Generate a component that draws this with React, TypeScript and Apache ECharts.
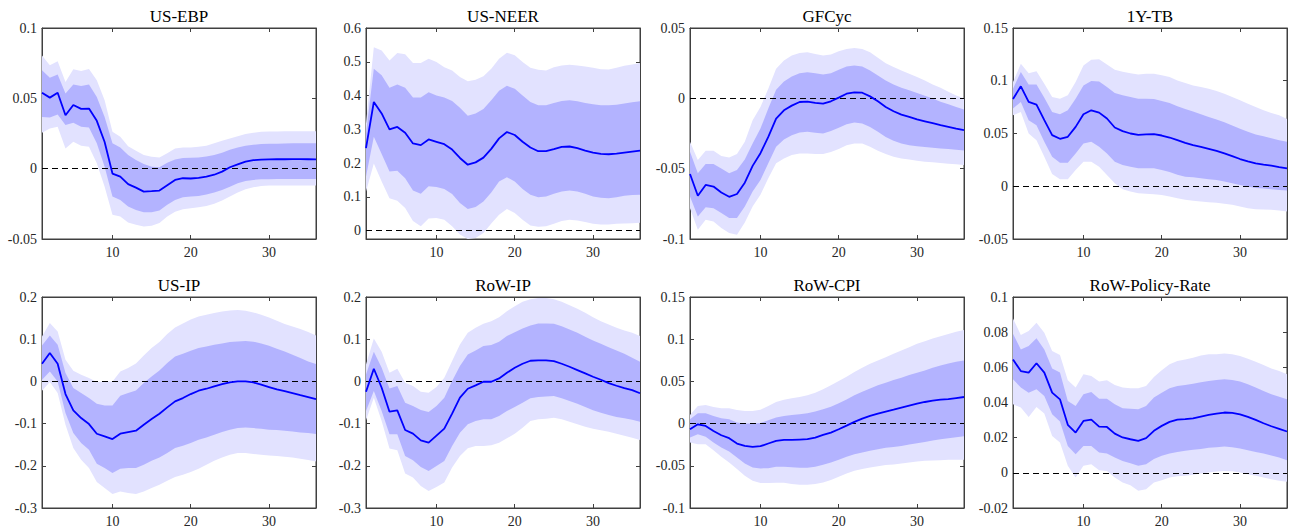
import React, { useEffect, useRef } from "react";
import * as echarts from "echarts";

const horizon = Array.from({ length: 36 }, (_, i) => i + 1);
const xTicks = [10, 20, 30];

// US-EBP
const ebpMean = [0.0539,0.0505,0.054,0.038,0.0453,0.0425,0.0427,0.034,0.019,-0.0035,-0.0057,-0.011,-0.0135,-0.0163,-0.016,-0.0156,-0.0118,-0.008,-0.0068,-0.007,-0.0066,-0.0057,-0.0043,-0.0021,0.001,0.003,0.005,0.006,0.0064,0.0066,0.0067,0.0067,0.0068,0.0068,0.0067,0.0066];
const ebpInHi = [0.07,0.0647,0.067,0.0534,0.0598,0.0588,0.0598,0.051,0.0368,0.018,0.0151,0.0097,0.0061,0.0033,0.0014,0.001,0.0042,0.0066,0.0076,0.0078,0.008,0.0087,0.0097,0.0113,0.0135,0.0151,0.0163,0.017,0.0175,0.0177,0.0178,0.0179,0.018,0.018,0.018,0.018];
const ebpInLo = [0.0368,0.0364,0.0385,0.031,0.0326,0.0298,0.0293,0.018,0.0014,-0.0198,-0.0222,-0.0269,-0.0293,-0.031,-0.031,-0.0298,-0.0257,-0.0222,-0.0203,-0.0198,-0.0194,-0.0184,-0.017,-0.0151,-0.0128,-0.0104,-0.0087,-0.008,-0.0076,-0.0075,-0.0074,-0.0074,-0.0073,-0.0073,-0.0073,-0.0073];
const ebpOutHi = [0.0805,0.0735,0.0763,0.0616,0.0706,0.0694,0.0709,0.0628,0.0487,0.0262,0.0227,0.016,0.0128,0.0097,0.0085,0.008,0.0109,0.0144,0.0151,0.0151,0.0156,0.0163,0.018,0.0198,0.0215,0.0231,0.0246,0.0255,0.0262,0.0264,0.0265,0.0266,0.0266,0.0266,0.0266,0.0266];
const ebpOutLo = [0.0255,0.0286,0.0298,0.0144,0.0191,0.0163,0.0156,0.0038,-0.0128,-0.0328,-0.034,-0.0383,-0.0399,-0.0411,-0.0406,-0.0387,-0.034,-0.0307,-0.0288,-0.0281,-0.0274,-0.0265,-0.025,-0.0227,-0.0198,-0.017,-0.0146,-0.0132,-0.0123,-0.012,-0.012,-0.012,-0.012,-0.012,-0.012,-0.012];
const ebpTicks = [-0.05, 0, 0.05, 0.1];

// US-NEER
const neerMean = [0.244,0.381,0.347,0.300,0.307,0.290,0.258,0.253,0.270,0.263,0.256,0.240,0.215,0.195,0.202,0.216,0.242,0.273,0.292,0.283,0.263,0.246,0.235,0.235,0.241,0.248,0.249,0.244,0.237,0.231,0.227,0.226,0.228,0.231,0.234,0.237];
const neerInHi = [0.288,0.479,0.460,0.423,0.433,0.423,0.394,0.394,0.410,0.400,0.394,0.384,0.364,0.340,0.347,0.360,0.386,0.414,0.429,0.420,0.400,0.381,0.371,0.371,0.378,0.384,0.386,0.383,0.378,0.374,0.371,0.371,0.373,0.376,0.380,0.383];
const neerInLo = [0.160,0.278,0.227,0.175,0.177,0.155,0.119,0.109,0.131,0.129,0.123,0.108,0.082,0.064,0.070,0.086,0.113,0.145,0.158,0.145,0.123,0.106,0.099,0.101,0.109,0.116,0.119,0.116,0.109,0.101,0.097,0.096,0.099,0.103,0.105,0.106];
const neerOutHi = [0.317,0.543,0.533,0.504,0.526,0.522,0.496,0.496,0.509,0.499,0.484,0.474,0.455,0.442,0.447,0.457,0.479,0.509,0.527,0.519,0.499,0.482,0.476,0.474,0.484,0.489,0.491,0.489,0.486,0.482,0.478,0.477,0.482,0.488,0.492,0.496];
const neerOutLo = [0.116,0.199,0.145,0.096,0.088,0.067,0.028,0.013,0.036,0.037,0.032,0.013,-0.012,-0.025,-0.022,-0.007,0.021,0.047,0.064,0.052,0.032,0.015,0.011,0.013,0.020,0.028,0.032,0.030,0.025,0.020,0.018,0.018,0.020,0.021,0.022,0.023];
const neerTicks = [0, 0.1, 0.2, 0.3, 0.4, 0.5, 0.6];

// GFCyc
const gfcMean = [-0.0538,-0.0693,-0.0616,-0.0627,-0.067,-0.07,-0.068,-0.06,-0.048,-0.039,-0.0274,-0.0144,-0.0085,-0.0052,-0.0026,-0.0024,-0.0033,-0.0038,-0.0021,0.0005,0.0033,0.0042,0.004,0.0014,-0.0021,-0.0061,-0.0092,-0.0116,-0.0132,-0.0149,-0.0163,-0.0177,-0.0191,-0.0203,-0.0215,-0.0226];
const gfcInHi = [-0.038,-0.0533,-0.0467,-0.0467,-0.0498,-0.0533,-0.051,-0.0434,-0.0321,-0.0215,-0.0073,0.0061,0.012,0.0156,0.0179,0.0186,0.0179,0.017,0.0179,0.0203,0.0226,0.0233,0.0226,0.0198,0.0163,0.0127,0.0099,0.0075,0.0057,0.0038,0.0019,-0.0002,-0.0024,-0.0042,-0.0061,-0.008];
const gfcInLo = [-0.0698,-0.084,-0.0774,-0.0781,-0.0816,-0.0851,-0.0851,-0.0769,-0.0663,-0.058,-0.0462,-0.0344,-0.0292,-0.0262,-0.0243,-0.0238,-0.0245,-0.025,-0.0233,-0.021,-0.0184,-0.0172,-0.0179,-0.0203,-0.0238,-0.0274,-0.0302,-0.0321,-0.0333,-0.034,-0.0346,-0.0351,-0.0356,-0.0361,-0.0365,-0.037];
const gfcOutHi = [-0.0309,-0.0439,-0.0373,-0.0373,-0.041,-0.042,-0.0396,-0.0309,-0.0156,-0.0061,0.0068,0.021,0.0269,0.0304,0.0323,0.0328,0.0316,0.0304,0.0311,0.0335,0.0351,0.0358,0.0351,0.0328,0.0288,0.025,0.0222,0.0198,0.0175,0.0151,0.0127,0.0099,0.0075,0.0047,0.0021,0];
const gfcOutLo = [-0.0781,-0.0934,-0.0863,-0.0875,-0.0922,-0.0958,-0.0969,-0.0882,-0.0769,-0.0686,-0.0568,-0.0462,-0.0427,-0.0403,-0.0392,-0.0392,-0.0396,-0.0396,-0.0382,-0.0361,-0.0333,-0.0321,-0.0321,-0.0344,-0.0373,-0.0396,-0.0415,-0.0427,-0.0434,-0.0443,-0.045,-0.0455,-0.046,-0.0465,-0.0469,-0.0474];
const gfcTicks = [-0.1, -0.05, 0, 0.05];

// 1Y-TB
const tbMean = [0.0827,0.0947,0.0799,0.0774,0.0626,0.0484,0.045,0.0469,0.0563,0.0682,0.072,0.0698,0.0642,0.0557,0.0522,0.05,0.0487,0.0491,0.0494,0.0481,0.0462,0.0437,0.0412,0.039,0.0374,0.0355,0.0336,0.0311,0.0286,0.0258,0.0236,0.0217,0.0204,0.0195,0.0182,0.017];
const tbInHi = [0.0925,0.1082,0.0965,0.0965,0.084,0.0704,0.0682,0.072,0.083,0.0956,0.0997,0.0994,0.094,0.0884,0.0862,0.0846,0.083,0.083,0.0827,0.0808,0.0789,0.0758,0.0733,0.0708,0.0682,0.0657,0.0632,0.0607,0.0575,0.0544,0.0516,0.0491,0.0475,0.0456,0.0437,0.0421];
const tbInLo = [0.0736,0.0799,0.0626,0.0579,0.0421,0.028,0.0223,0.0223,0.0311,0.0406,0.0421,0.0374,0.0311,0.0233,0.0201,0.0186,0.017,0.017,0.017,0.0154,0.0135,0.011,0.0091,0.0085,0.0075,0.0066,0.006,0.0044,0.0028,0.0013,-0.0003,-0.0016,-0.0022,-0.0028,-0.0035,-0.0041];
const tbOutHi = [0.0987,0.116,0.1072,0.1091,0.0972,0.0846,0.083,0.0862,0.0987,0.1145,0.1198,0.1204,0.1154,0.1104,0.1085,0.1072,0.106,0.1066,0.1066,0.1053,0.1035,0.1003,0.0978,0.0956,0.094,0.0925,0.0903,0.0877,0.0846,0.0814,0.0783,0.0752,0.072,0.0695,0.0673,0.0638];
const tbOutLo = [0.0673,0.0704,0.05,0.0437,0.028,0.0116,0.0066,0.0066,0.0154,0.0233,0.0233,0.0186,0.0107,0.0028,-0.0028,-0.005,-0.0066,-0.0072,-0.0075,-0.0082,-0.0097,-0.0113,-0.0129,-0.0138,-0.0145,-0.0151,-0.0157,-0.0167,-0.0176,-0.0192,-0.0208,-0.0217,-0.022,-0.0223,-0.023,-0.0239];
const tbTicks = [-0.05, 0, 0.05, 0.1, 0.15];

// US-IP
const uipMean = [0.0419,0.0671,0.0419,-0.03,-0.0687,-0.0869,-0.1011,-0.124,-0.1303,-0.1367,-0.124,-0.12,-0.1169,-0.1027,-0.0893,-0.0766,-0.0616,-0.0474,-0.0395,-0.03,-0.0221,-0.0174,-0.0118,-0.0063,-0.0024,0,0,-0.0024,-0.0079,-0.0134,-0.019,-0.0229,-0.0276,-0.0324,-0.0371,-0.0419];
const uipInHi = [0.0853,0.109,0.0869,0.0197,-0.0158,-0.0276,-0.0395,-0.0529,-0.0569,-0.0569,-0.034,-0.0276,-0.0213,-0.0039,0.0118,0.0261,0.0434,0.0592,0.0656,0.0727,0.079,0.0829,0.0869,0.09,0.0932,0.0948,0.0956,0.094,0.09,0.0845,0.0774,0.0711,0.0632,0.0553,0.0474,0.0411];
const uipInLo = [0.004,0.0237,0,-0.075,-0.1224,-0.1461,-0.1619,-0.1951,-0.2054,-0.2172,-0.207,-0.2054,-0.2054,-0.1975,-0.188,-0.1801,-0.1698,-0.158,-0.1524,-0.1461,-0.1382,-0.1327,-0.1264,-0.1201,-0.1145,-0.1106,-0.109,-0.1106,-0.1122,-0.1145,-0.1153,-0.1169,-0.1185,-0.1209,-0.1224,-0.1248];
const uipOutHi = [0.1066,0.1382,0.1185,0.0513,0.0253,0.0158,0.0079,-0.0016,0,0,0.0237,0.0316,0.0427,0.0616,0.079,0.0932,0.1122,0.128,0.1374,0.1469,0.154,0.158,0.1619,0.1659,0.1682,0.169,0.1675,0.1635,0.158,0.1517,0.1438,0.1359,0.1303,0.124,0.1169,0.109];
const uipOutLo = [-0.0221,-0.0016,-0.0276,-0.1027,-0.158,-0.1856,-0.2054,-0.2385,-0.2528,-0.267,-0.2607,-0.2646,-0.267,-0.2607,-0.2528,-0.2449,-0.2354,-0.2267,-0.2212,-0.2148,-0.207,-0.1975,-0.188,-0.1801,-0.1738,-0.1698,-0.1698,-0.1722,-0.1738,-0.1754,-0.1769,-0.1785,-0.1801,-0.1833,-0.1864,-0.1896];
const uipTicks = [-0.3, -0.2, -0.1, 0, 0.1, 0.2];

// RoW-IP
const ripMean = [-0.0244,0.03,-0.015,-0.0718,-0.0686,-0.1151,-0.1238,-0.1396,-0.1451,-0.1285,-0.112,-0.0765,-0.0386,-0.0174,-0.0095,-0.0008,-0.0008,0.0071,0.0205,0.0323,0.0418,0.0489,0.0497,0.0497,0.0481,0.0418,0.0347,0.0268,0.0189,0.011,0.0039,-0.0039,-0.0103,-0.0158,-0.0205,-0.028];
const ripInHi = [0.0166,0.0702,0.0323,-0.0166,-0.011,-0.0505,-0.0584,-0.0678,-0.0726,-0.0584,-0.0386,0.0008,0.0363,0.0639,0.0733,0.0836,0.086,0.0938,0.1073,0.1167,0.1254,0.1325,0.1372,0.1372,0.1364,0.1309,0.123,0.1151,0.1057,0.097,0.0891,0.0812,0.0733,0.0655,0.056,0.0465];
const ripInLo = [-0.0702,-0.0229,-0.0702,-0.1254,-0.1254,-0.1767,-0.1869,-0.2027,-0.2121,-0.2003,-0.1885,-0.153,-0.1215,-0.1017,-0.0938,-0.0899,-0.0899,-0.082,-0.0702,-0.0607,-0.0505,-0.0402,-0.0371,-0.0355,-0.0347,-0.0402,-0.0465,-0.0528,-0.0607,-0.0686,-0.0741,-0.0797,-0.0844,-0.0875,-0.0907,-0.0954];
const ripOutHi = [0.0402,0.1017,0.0702,0.0205,0.03,-0.0032,-0.011,-0.0244,-0.0268,-0.0134,0.0087,0.0481,0.0875,0.1151,0.127,0.1364,0.1427,0.1522,0.1664,0.1782,0.1885,0.1948,0.1979,0.1979,0.1948,0.1885,0.1806,0.1719,0.1625,0.1522,0.1427,0.1349,0.127,0.1207,0.1151,0.1073];
const ripOutLo = [-0.0923,-0.0386,-0.0938,-0.1593,-0.1632,-0.2185,-0.2279,-0.2476,-0.2595,-0.25,-0.2397,-0.2042,-0.1767,-0.1585,-0.153,-0.153,-0.1514,-0.1451,-0.1349,-0.1238,-0.1096,-0.0938,-0.0899,-0.0883,-0.086,-0.0899,-0.0954,-0.1017,-0.1073,-0.112,-0.1159,-0.1191,-0.1238,-0.1285,-0.1333,-0.1388];
const ripTicks = [-0.3, -0.2, -0.1, 0, 0.1, 0.2];

// RoW-CPI
const cpiMean = [-0.0067,-0.0008,-0.0028,-0.0087,-0.0138,-0.0173,-0.0236,-0.0264,-0.0276,-0.0268,-0.0236,-0.0205,-0.0193,-0.0193,-0.0189,-0.0185,-0.0165,-0.0134,-0.0106,-0.0067,-0.0024,0.002,0.0059,0.0091,0.0118,0.0142,0.0165,0.0189,0.0213,0.0236,0.0256,0.0272,0.0283,0.0291,0.0303,0.0315];
const cpiInHi = [0.0051,0.0122,0.0122,0.0091,0.0063,0.0051,0.0012,0,0,0.0008,0.0039,0.0071,0.0091,0.0102,0.011,0.0122,0.0142,0.0169,0.0201,0.024,0.0287,0.0335,0.0378,0.0417,0.0453,0.0484,0.0516,0.0543,0.0575,0.0602,0.063,0.0661,0.0689,0.0713,0.0732,0.0748];
const cpiInLo = [-0.0165,-0.0126,-0.0157,-0.0224,-0.0283,-0.0331,-0.0402,-0.0472,-0.052,-0.0531,-0.0528,-0.0512,-0.0512,-0.0516,-0.0524,-0.0524,-0.0512,-0.0488,-0.0461,-0.0429,-0.0394,-0.0362,-0.0343,-0.0323,-0.0303,-0.0287,-0.0276,-0.0264,-0.0248,-0.0232,-0.0217,-0.0201,-0.0185,-0.0173,-0.0161,-0.015];
const cpiOutHi = [0.0102,0.0209,0.022,0.0197,0.0181,0.0181,0.0161,0.015,0.015,0.0165,0.0209,0.0256,0.0283,0.0299,0.0315,0.0335,0.0366,0.0406,0.0453,0.0504,0.0555,0.061,0.0661,0.0709,0.0748,0.0787,0.0827,0.0866,0.0906,0.0945,0.0976,0.1008,0.1035,0.1063,0.1087,0.111];
const cpiOutLo = [-0.0224,-0.0244,-0.0244,-0.0315,-0.0394,-0.0461,-0.0539,-0.0618,-0.0677,-0.0705,-0.0705,-0.0701,-0.0701,-0.0717,-0.0724,-0.0724,-0.0717,-0.0697,-0.0669,-0.063,-0.0591,-0.0559,-0.0539,-0.052,-0.0504,-0.0492,-0.0484,-0.0472,-0.0461,-0.0449,-0.0441,-0.0437,-0.0433,-0.0429,-0.0429,-0.0429];
const cpiTicks = [-0.1, -0.05, 0, 0.05, 0.1, 0.15];

// RoW-Policy-Rate
const prMean = [0.0645,0.0579,0.057,0.0623,0.057,0.0456,0.0418,0.0273,0.0229,0.0295,0.0303,0.0263,0.0261,0.0223,0.0201,0.0191,0.0182,0.0197,0.0239,0.0267,0.029,0.0303,0.0305,0.031,0.032,0.0329,0.0337,0.0343,0.0341,0.0333,0.0318,0.0301,0.0282,0.0265,0.025,0.0235];
const prInHi = [0.0791,0.0702,0.0721,0.0765,0.0702,0.0594,0.057,0.0409,0.038,0.0447,0.046,0.0422,0.0422,0.039,0.0367,0.0365,0.0362,0.038,0.0428,0.0456,0.0481,0.0494,0.05,0.0507,0.0515,0.0522,0.0528,0.0532,0.0528,0.0519,0.0504,0.0485,0.0466,0.0447,0.0432,0.0418];
const prInLo = [0.0532,0.0485,0.0456,0.0475,0.0437,0.0333,0.0292,0.0153,0.0106,0.0153,0.0153,0.0115,0.011,0.0087,0.0068,0.0055,0.004,0.0049,0.0078,0.0097,0.011,0.0119,0.0125,0.0131,0.0136,0.0142,0.0146,0.015,0.0146,0.0138,0.0129,0.0119,0.011,0.0098,0.0087,0.0072];
const prOutHi = [0.0878,0.0784,0.0806,0.0854,0.0797,0.0693,0.067,0.0526,0.0485,0.056,0.0551,0.0519,0.0526,0.05,0.0485,0.0481,0.0481,0.0494,0.0545,0.0583,0.0617,0.0636,0.0645,0.0655,0.0668,0.0674,0.0674,0.0678,0.0674,0.0664,0.0649,0.0632,0.0613,0.0594,0.0579,0.056];
const prOutLo = [0.039,0.0371,0.0318,0.0375,0.0337,0.021,0.0172,0.004,-0.0027,0.004,0.0049,0.0015,0.0011,-0.0027,-0.0055,-0.007,-0.0102,-0.0093,-0.0055,-0.0042,-0.0027,-0.0019,-0.0017,-0.0011,-0.0004,0.0002,0.0008,0.0011,0.0009,0.0002,-0.0008,-0.0017,-0.0027,-0.0036,-0.0045,-0.0051];
const prTicks = [-0.02, 0, 0.02, 0.04, 0.06, 0.08, 0.1];

const panels = [
  { title: "US-EBP", mean: ebpMean, inHi: ebpInHi, inLo: ebpInLo, outHi: ebpOutHi, outLo: ebpOutLo, ticks: ebpTicks, yMin: -0.05, yMax: 0.1 },
  { title: "US-NEER", mean: neerMean, inHi: neerInHi, inLo: neerInLo, outHi: neerOutHi, outLo: neerOutLo, ticks: neerTicks, yMin: -0.025, yMax: 0.6 },
  { title: "GFCyc", mean: gfcMean, inHi: gfcInHi, inLo: gfcInLo, outHi: gfcOutHi, outLo: gfcOutLo, ticks: gfcTicks, yMin: -0.1, yMax: 0.05 },
  { title: "1Y-TB", mean: tbMean, inHi: tbInHi, inLo: tbInLo, outHi: tbOutHi, outLo: tbOutLo, ticks: tbTicks, yMin: -0.05, yMax: 0.15 },
  { title: "US-IP", mean: uipMean, inHi: uipInHi, inLo: uipInLo, outHi: uipOutHi, outLo: uipOutLo, ticks: uipTicks, yMin: -0.3, yMax: 0.2 },
  { title: "RoW-IP", mean: ripMean, inHi: ripInHi, inLo: ripInLo, outHi: ripOutHi, outLo: ripOutLo, ticks: ripTicks, yMin: -0.3, yMax: 0.2 },
  { title: "RoW-CPI", mean: cpiMean, inHi: cpiInHi, inLo: cpiInLo, outHi: cpiOutHi, outLo: cpiOutLo, ticks: cpiTicks, yMin: -0.1, yMax: 0.15 },
  { title: "RoW-Policy-Rate", mean: prMean, inHi: prInHi, inLo: prInLo, outHi: prOutHi, outLo: prOutLo, ticks: prTicks, yMin: -0.02, yMax: 0.1 },
];

const FONT = "'Liberation Serif', 'DejaVu Serif', 'Times New Roman', serif";
const AXIS_COLOR = "#404040";
const LABEL_COLOR = "#262626";
const OUTER_COLOR = "#E2E2FF";
const INNER_COLOR = "#B3B3FF";
const LINE_COLOR = "#0000FF";

const gridLefts = [42, 366, 690, 1013];
const gridTops = [28, 297];
const GRID_W = 274;
const GRID_H = 211;

const categories = horizon.map(String);
const isXTick = (_idx: number, val: string) => xTicks.indexOf(Number(val)) >= 0;

const fmtY = (v: number) => {
  const r = Math.round(v * 10000) / 10000;
  return r === 0 ? "0" : String(r);
};

const mkLine = () => ({ show: true, onZero: false, lineStyle: { color: AXIS_COLOR, width: 1 } });

function bandSeries(i: number, lo: number[], hi: number[], color: string, name: string) {
  return {
    type: "custom",
    name,
    xAxisIndex: 2 * i,
    yAxisIndex: 2 * i,
    silent: true,
    clip: true,
    data: horizon.map((_, k) => [k, lo[k], hi[k]]),
    encode: { x: 0, y: [1, 2] },
    renderItem: (params: any, api: any) => {
      if (params.dataIndex !== 0) return null;
      const upper = hi.map((v, k) => api.coord([k, v]));
      const lower = lo.map((v, k) => api.coord([k, v])).reverse();
      return {
        type: "polygon",
        shape: { points: upper.concat(lower) },
        style: { fill: color, stroke: null },
      };
    },
  };
}

function buildOption() {
  const grid: any[] = [];
  const xAxis: any[] = [];
  const yAxis: any[] = [];
  const series: any[] = [];
  const graphic: any[] = [];

  panels.forEach((p, i) => {
    const left = gridLefts[i % 4];
    const top = gridTops[Math.floor(i / 4)];
    grid.push({
      left, top, width: GRID_W, height: GRID_H,
      outerBoundsMode: "none", containLabel: false,
      show: true, borderColor: AXIS_COLOR, borderWidth: 1, backgroundColor: "transparent",
    });

    xAxis.push({
      gridIndex: i, type: "category", data: categories, boundaryGap: false, position: "bottom",
      axisLine: mkLine(),
      axisTick: { show: true, inside: true, length: 4, interval: isXTick, lineStyle: { color: AXIS_COLOR } },
      axisLabel: { show: true, interval: isXTick, margin: 6, color: LABEL_COLOR, fontFamily: FONT, fontSize: 14 },
      splitLine: { show: false },
    });
    xAxis.push({
      gridIndex: i, type: "category", data: categories, boundaryGap: false, position: "top",
      axisLine: mkLine(),
      axisTick: { show: true, inside: true, length: 4, interval: isXTick, lineStyle: { color: AXIS_COLOR } },
      axisLabel: { show: false },
      splitLine: { show: false },
    });
    yAxis.push({
      gridIndex: i, type: "value", min: p.yMin, max: p.yMax, position: "left",
      axisLine: mkLine(),
      axisTick: { show: true, inside: true, length: 4, customValues: p.ticks, lineStyle: { color: AXIS_COLOR } },
      axisLabel: { show: true, customValues: p.ticks, margin: 5, color: LABEL_COLOR, fontFamily: FONT, fontSize: 14, formatter: fmtY },
      splitLine: { show: false },
    });
    yAxis.push({
      gridIndex: i, type: "value", min: p.yMin, max: p.yMax, position: "right",
      axisLine: mkLine(),
      axisTick: { show: true, inside: true, length: 4, customValues: p.ticks, lineStyle: { color: AXIS_COLOR } },
      axisLabel: { show: false },
      splitLine: { show: false },
    });

    series.push(bandSeries(i, p.outLo, p.outHi, OUTER_COLOR, p.title + " outer band"));
    series.push(bandSeries(i, p.inLo, p.inHi, INNER_COLOR, p.title + " inner band"));
    series.push({
      type: "line", xAxisIndex: 2 * i, yAxisIndex: 2 * i, symbol: "none", silent: true,
      name: p.title, data: p.mean, z: 5,
      lineStyle: { color: LINE_COLOR, width: 1.8 },
      markLine: {
        silent: true, symbol: ["none", "none"], label: { show: false },
        lineStyle: { color: "#000", width: 1, type: [6, 4] },
        data: [{ yAxis: 0 }],
      },
    });

    graphic.push({
      type: "text", x: left + GRID_W / 2, y: top - 12,
      style: {
        text: p.title, fill: "#000", fontFamily: FONT, fontSize: 17, fontWeight: "normal",
        align: "center", verticalAlign: "middle", textAlign: "center", textVerticalAlign: "middle",
      },
    });
  });

  return { animation: false, backgroundColor: "#fff", textStyle: { fontFamily: FONT }, grid, xAxis, yAxis, series, graphic };
}

export default function App() {
  const ref = useRef<HTMLDivElement>(null);
  useEffect(() => {
    if (!ref.current) return;
    const chart = echarts.init(ref.current, undefined, { renderer: "svg" });
    chart.setOption(buildOption() as any);
    return () => chart.dispose();
  }, []);
  return <div ref={ref} style={{ position: "absolute", left: 0, top: 0, width: 1289, height: 531 }} />;
}
